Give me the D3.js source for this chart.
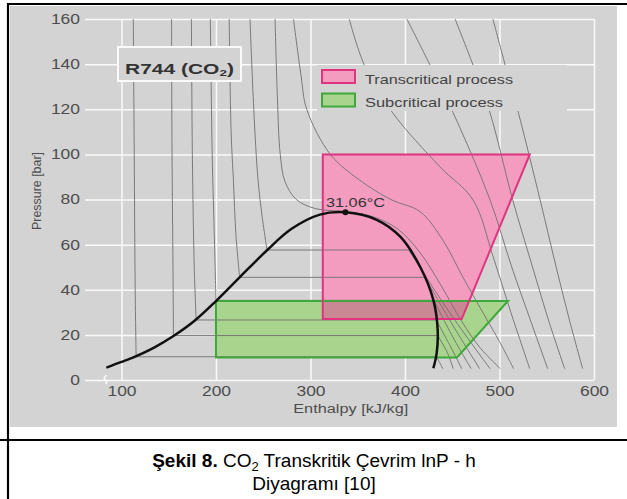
<!DOCTYPE html>
<html>
<head>
<meta charset="utf-8">
<script src="https://cdn.jsdelivr.net/npm/d3@7"></script>
<style>
    body { margin: 0; background: #fff; }
    #chart-area { width: 627px; height: 499px; }
    text { font-family: "Liberation Sans", Arial, sans-serif; white-space: pre; }
</style>
</head>
<body>
<div id="chart-area"></div>
<script>

// tick values
const enthalpyTicks = [100, 200, 300, 400, 500, 600];
const pressureTicks = [0, 20, 40, 60, 80, 100, 120, 140, 160];

// saturation dome [h kJ/kg, p bar]
const saturationDome = [[84, 5.5], [100, 8], [115, 10.5], [135, 14.5], [155, 19.5], [178, 26.5], [200, 35],
    [225, 45.5], [254, 57.5], [280, 67], [310, 73.3], [337, 74.3], [370, 71], [395, 63.5], [416, 50.2],
    [430, 35.5], [434.6, 22], [433.5, 11.8], [430, 5.2]];
const criticalPoint = [337, 74.3];
const criticalLabel = "31.06°C";

// process areas
const transcritical = [[313, 100], [532, 100], [460, 27], [313, 27]];
const subcritical = [[200, 35], [509, 35], [455, 10], [200, 10]];

// isotherms (gray lines)
const iso1 = [[112.5, 160], [113.5, 100], [114.5, 40], [115.5, 10.3], [433.3, 10.3], [437, 7.5], [440, 5]];
const iso2 = [[153, 160], [153.5, 100], [154.5, 50], [155, 19.7], [434.5, 19.7], [445, 12], [451, 5]];
const iso3 = [[174, 160], [175, 100], [177, 50], [179, 26.6], [433, 26.6], [448, 15], [460, 5]];
const iso4 = [[194, 160], [196, 100], [198.5, 60], [200, 35.3], [430.5, 35.3], [452, 18], [470, 5]];
const iso5 = [[214, 160], [216, 110], [218.5, 88], [221, 65], [225, 45.5], [421, 45.5], [451, 24], [479, 5]];
const iso6 = [[236, 160], [240, 120], [244.5, 88.6], [249, 72], [254, 57.6], [404, 57.6], [447, 30], [490, 5]];
const iso7 = [[262.5, 160], [265, 125], [268, 100], [273, 88], [285, 80], [305, 76], [337, 74.6], [365, 72.5],
    [392, 67], [415, 57], [438, 42], [460, 26], [480, 14], [501, 5]];
const iso8 = [[282, 160], [290, 135], [296, 120], [321, 100], [352, 88.6], [385, 80], [416, 74.6], [440, 62],
    [462, 45], [485, 28], [500, 17], [515, 5]];
const iso9 = [[341, 160], [357, 139.6], [387, 118.4], [437, 94.5], [472, 79.8], [493, 55], [512, 30], [532, 5]];
const iso10 = [[402, 160], [426.5, 139.6], [451, 118.4], [490, 79.8], [513, 50], [534, 25], [551, 5]];
const iso11 = [[453, 160], [472, 139.6], [490, 118.4], [514, 79.8], [535, 50], [553, 25], [569, 5]];
const iso12 = [[493, 160], [506, 139.6], [520, 118.4], [543, 79.8], [560, 50], [575, 25], [588, 5]];
const isotherms = [iso1, iso2, iso3, iso4, iso5, iso6, iso7, iso8, iso9, iso10, iso11, iso12];

const legendLabels = ["Transcritical process", "Subcritical process"];


class PhChart {

    constructor(parentElement) {
        this.parentElement = parentElement;
        this.initVis();
    }

    initVis() {
        let vis = this;

        vis.svg = d3.select("#" + vis.parentElement).append("svg")
            .attr("width", 627)
            .attr("height", 499);

        // gray picture panel
        vis.svg.append("rect")
            .attr("x", 10).attr("y", 6)
            .attr("width", 607).attr("height", 421)
            .attr("fill", "#d3d3d3");

        // scales
        vis.x = d3.scaleLinear().domain([61.4, 600]).range([85, 594]);
        vis.y = d3.scaleLinear().domain([0, 160]).range([380, 19]);

        vis.line = d3.line().x(d => vis.x(d[0])).y(d => vis.y(d[1]));
        vis.curve = d3.line().x(d => vis.x(d[0])).y(d => vis.y(d[1])).curve(d3.curveCatmullRom.alpha(0.5));

        vis.drawAxes();
        vis.drawProcesses();
        vis.drawIsotherms();
        vis.drawDome();
        vis.drawLabels();
        vis.drawTable();
    }

    drawAxes() {
        let vis = this;

        let xAxis = d3.axisBottom(vis.x).tickValues(enthalpyTicks)
            .tickSize(-(vis.y(0) - vis.y(160))).tickPadding(6);
        let yAxis = d3.axisLeft(vis.y).tickValues(pressureTicks)
            .tickSize(-(vis.x(600) - vis.x.range()[0])).tickPadding(5);

        let gx = vis.svg.append("g")
            .attr("class", "x-axis axis")
            .attr("transform", `translate(0, ${vis.y(0)})`)
            .call(xAxis);
        let gy = vis.svg.append("g")
            .attr("class", "y-axis axis")
            .attr("transform", `translate(${vis.x.range()[0]}, 0)`)
            .call(yAxis);

        [gx, gy].forEach(g => {
            g.select(".domain").remove();
            g.selectAll("line").attr("stroke", "#fafafa").attr("stroke-width", 1.5);
            g.selectAll("text")
                .attr("font-size", 14)
                .attr("font-family", "Liberation Sans, Arial, sans-serif")
                .attr("fill", "#4d4d4d")
                .attr("lengthAdjust", "spacingAndGlyphs")
                .attr("textLength", d => String(d).length * 9.7);
        });

        // axis break mark at origin
        vis.svg.append("path")
            .attr("d", `M${vis.x(83)},${vis.y(0) + 4} q3,-3 0,-4 q-3,-1 1,-5`)
            .attr("fill", "none").attr("stroke", "#fafafa").attr("stroke-width", 1.5);

        vis.svg.append("text")
            .attr("x", (vis.x(300) + vis.x(400)) / 2 - 7)
            .attr("y", 413)
            .attr("text-anchor", "middle")
            .attr("font-size", 12.5)
            .attr("fill", "#4d4d4d")
            .attr("textLength", 115).attr("lengthAdjust", "spacingAndGlyphs")
            .text("Enthalpy [kJ/kg]");

        vis.svg.append("text")
            .attr("transform", "translate(41, 191) rotate(-90)")
            .attr("text-anchor", "middle")
            .attr("font-size", 12)
            .attr("fill", "#4d4d4d")
            .attr("textLength", 78).attr("lengthAdjust", "spacingAndGlyphs")
            .text("Pressure [bar]");
    }

    drawProcesses() {
        let vis = this;
        let poly = pts => vis.line(pts) + "Z";

        vis.svg.append("clipPath").attr("id", "clip-sub")
            .append("path").attr("d", poly(subcritical));

        vis.svg.append("path").attr("d", poly(transcritical)).attr("fill", "#f39cbf");
        vis.svg.append("path").attr("d", poly(subcritical)).attr("fill", "#a9d48e");
        vis.svg.append("path").attr("d", poly(transcritical))
            .attr("fill", "#c98893")
            .attr("clip-path", "url(#clip-sub)");
    }

    drawIsotherms() {
        let vis = this;
        let g = vis.svg.append("g").attr("class", "isotherms")
            .attr("fill", "none").attr("stroke", "#6f6f6f").attr("stroke-width", 0.9);

        isotherms.forEach(pts => {
            let i = pts.findIndex((d, k) => k < pts.length - 1 && d[1] === pts[k + 1][1]);
            if (i < 0) {
                g.append("path").attr("d", vis.curve(pts));
            } else {
                g.append("path").attr("d", vis.curve(pts.slice(0, i + 1)));
                g.append("path").attr("d", vis.line([pts[i], pts[i + 1]]));
                g.append("path").attr("d", vis.curve(pts.slice(i + 1)));
            }
        });

        // process outlines above the lines
        let poly = pts => vis.line(pts) + "Z";
        vis.svg.append("path").attr("d", poly(subcritical))
            .attr("fill", "none").attr("stroke", "#3fa83a").attr("stroke-width", 2);
        vis.svg.append("path").attr("d", poly(transcritical))
            .attr("fill", "none").attr("stroke", "#e03380").attr("stroke-width", 2);
    }

    drawDome() {
        let vis = this;

        vis.svg.append("path")
            .attr("d", vis.curve(saturationDome))
            .attr("fill", "none")
            .attr("stroke", "#111")
            .attr("stroke-width", 2.5);

        vis.svg.append("circle")
            .attr("cx", vis.x(criticalPoint[0]))
            .attr("cy", vis.y(criticalPoint[1]))
            .attr("r", 3)
            .attr("fill", "#111");

        vis.svg.append("text")
            .attr("x", vis.x(criticalPoint[0]) + 10)
            .attr("y", vis.y(criticalPoint[1]) - 5.5)
            .attr("text-anchor", "middle")
            .attr("font-size", 13)
            .attr("fill", "#333")
            .attr("textLength", 59).attr("lengthAdjust", "spacingAndGlyphs")
            .text(criticalLabel);
    }

    drawLabels() {
        let vis = this;

        // R744 box
        vis.svg.append("rect")
            .attr("x", 118).attr("y", 47).attr("width", 123).attr("height", 34)
            .attr("fill", "#d3d3d3").attr("stroke", "#fafafa").attr("stroke-width", 2);
        let r = vis.svg.append("g").attr("transform", "translate(125, 74) scale(1.5, 1)")
            .append("text")
            .attr("font-size", 14).attr("font-weight", "bold").attr("fill", "#333");
        r.append("tspan").text("R744 (CO");
        r.append("tspan").attr("font-size", 9).attr("dy", 2).text("2");
        r.append("tspan").attr("dy", -2).text(")");

        // legend
        let colors = [["#f39cbf", "#e03380"], ["#a9d48e", "#3fa83a"]];
        vis.svg.append("rect")
            .attr("x", 317).attr("y", 65).attr("width", 250).attr("height", 46)
            .attr("fill", "#d3d3d3");
        legendLabels.forEach((label, i) => {
            vis.svg.append("rect")
                .attr("x", 322).attr("y", 70 + i * 23.5)
                .attr("width", 33).attr("height", 13)
                .attr("fill", colors[i][0]).attr("stroke", colors[i][1]).attr("stroke-width", 2);
            vis.svg.append("text")
                .attr("x", 365).attr("y", 83.5 + i * 23.5)
                .attr("font-size", 13).attr("fill", "#444")
                .attr("textLength", i === 0 ? 148 : 138).attr("lengthAdjust", "spacingAndGlyphs")
                .text(label);
        });
    }

    drawTable() {
        let vis = this;
        let border = (x1, y1, x2, y2) => vis.svg.append("line")
            .attr("x1", x1).attr("y1", y1).attr("x2", x2).attr("y2", y2)
            .attr("stroke", "#000").attr("stroke-width", 2.2);
        border(7, 4, 627, 4);
        border(8, 3, 8, 499);
        border(0, 440, 627, 440);

        let cap = vis.svg.append("text")
            .attr("x", 314).attr("y", 467)
            .attr("text-anchor", "middle")
            .attr("font-size", 19).attr("fill", "#000");
        cap.append("tspan").attr("font-weight", "bold").text("Şekil 8.");
        cap.append("tspan").text(" CO");
        cap.append("tspan").attr("font-size", 13).attr("dy", 4).text("2");
        cap.append("tspan").attr("dy", -4).text(" Transkritik Çevrim lnP - h");

        vis.svg.append("text")
            .attr("x", 314).attr("y", 490)
            .attr("text-anchor", "middle")
            .attr("font-size", 19).attr("fill", "#000")
            .text("Diyagramı [10]");
    }
}

new PhChart("chart-area");
</script>
</body>
</html>
